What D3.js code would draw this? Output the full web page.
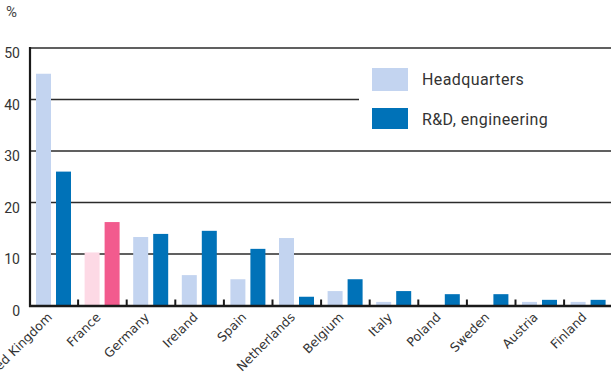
<!DOCTYPE html>
<html>
<head>
<meta charset="utf-8">
<script src="https://cdn.jsdelivr.net/npm/d3@7/dist/d3.min.js"></script>
<style>
  html, body { margin: 0; padding: 0; background: #fff; }
  svg { display: block; }
</style>
</head>
<body>
<svg id="chart" width="611" height="373"></svg>
<script>
// Share of locations by country (%)
const countries = ["United Kingdom", "France", "Germany", "Ireland", "Spain", "Netherlands",
                   "Belgium", "Italy", "Poland", "Sweden", "Austria", "Finland"];
const headquarters = [45, 10.3, 13.3, 5.9, 5.1, 13.1, 2.8, 0.7, 0, 0, 0.7, 0.7];
const rdEngineering = [26, 16.2, 13.9, 14.5, 11.0, 1.7, 5.1, 2.8, 2.2, 2.2, 1.1, 1.1];
const yTicks = [0, 10, 20, 30, 40, 50];
const seriesNames = ["Headquarters", "R&D, engineering"];

const W = 611, H = 373;
const svg = d3.select("#chart");

const x = d3.scaleBand().domain(countries).range([29.5, 612.7]).paddingInner(0).paddingOuter(0);
const y = d3.scaleLinear().domain([0, 50]).range([305.5, 48]);

const colors = {
  hq: "#c3d4f0", rd: "#0072b8",
  hqHi: "#fdd9e5", rdHi: "#f25b8e"
};
const highlight = "France";

// Gridlines (the 40 line stops short of the legend)
const legendLeftEdge = 359;
svg.append("g").selectAll("line")
  .data(yTicks.filter(d => d > 0))
  .join("line")
  .attr("x1", 30)
  .attr("x2", d => d === 40 ? legendLeftEdge : W)
  .attr("y1", d => y(d)).attr("y2", d => y(d))
  .attr("stroke", "#2b2b2b").attr("stroke-width", 1.3);

// Y tick labels
svg.append("g").selectAll("text")
  .data(yTicks)
  .join("text")
  .attr("x", 20)
  .attr("y", d => y(d) + 10)
  .attr("text-anchor", "end")
  .attr("font-family", "Roboto, 'DejaVu Sans', sans-serif")
  .attr("font-size", 14)
  .attr("fill", "#333")
  .text(d => d);

svg.append("text")
  .attr("x", 6).attr("y", 17)
  .attr("font-family", "Roboto, 'DejaVu Sans', sans-serif")
  .attr("font-size", 15)
  .attr("fill", "#444")
  .text("%");

// Bars
const bw = 15;
const groups = svg.append("g").selectAll("g")
  .data(countries)
  .join("g")
  .attr("transform", d => `translate(${x(d)},0)`);

groups.append("rect")
  .attr("x", 6.5)
  .attr("width", bw)
  .attr("y", (d, i) => y(headquarters[i]))
  .attr("height", (d, i) => y(0) - y(headquarters[i]))
  .attr("fill", d => d === highlight ? colors.hqHi : colors.hq);

groups.append("rect")
  .attr("x", 26.5)
  .attr("width", bw)
  .attr("y", (d, i) => y(rdEngineering[i]))
  .attr("height", (d, i) => y(0) - y(rdEngineering[i]))
  .attr("fill", d => d === highlight ? colors.rdHi : colors.rd);

// Baseline and left axis
svg.append("line")
  .attr("x1", 30).attr("x2", 30)
  .attr("y1", 47).attr("y2", 307)
  .attr("stroke", "#1a1a1a").attr("stroke-width", 2.2);

svg.append("line")
  .attr("x1", 29).attr("x2", W)
  .attr("y1", 306).attr("y2", 306)
  .attr("stroke", "#1a1a1a").attr("stroke-width", 2.5);

// Separator ticks between categories
svg.append("g").selectAll("line")
  .data(countries.slice(1))
  .join("line")
  .attr("x1", d => x(d)).attr("x2", d => x(d))
  .attr("y1", 299.5).attr("y2", 306)
  .attr("stroke", "#1a1a1a").attr("stroke-width", 2);

// Category labels
svg.append("g").selectAll("text")
  .data(countries)
  .join("text")
  .attr("transform", d => `translate(${x(d) + x.bandwidth() / 2 - 1},${318}) rotate(-45)`)
  .attr("text-anchor", "end")
  .attr("font-family", "'DejaVu Sans', sans-serif")
  .attr("font-size", 12.5)
  .attr("fill", "#333")
  .text(d => d);

// Legend
const legend = svg.append("g");
const legendColors = [colors.hq, colors.rd];
seriesNames.forEach((name, i) => {
  const yy = 68 + i * 40;
  legend.append("rect")
    .attr("x", 372).attr("y", yy)
    .attr("width", 36).attr("height", i === 0 ? 23 : 21)
    .attr("fill", legendColors[i]);
  legend.append("text")
    .attr("x", 422).attr("y", yy + 17)
    .attr("font-family", "Roboto, 'DejaVu Sans', sans-serif")
    .attr("font-size", 16)
    .attr("letter-spacing", 0.4)
    .attr("fill", "#333")
    .text(name);
});
</script>
</body>
</html>
